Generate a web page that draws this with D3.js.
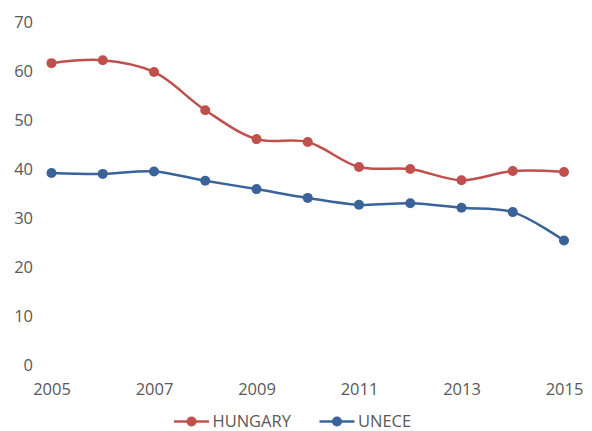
<!DOCTYPE html>
<html><head><meta charset="utf-8">
<script src="https://cdn.jsdelivr.net/npm/d3@7"></script>
<style>body{margin:0;background:#fff}svg{display:block}text{font-family:"Open Sans",sans-serif;fill:#595959}</style>
</head><body><svg id="c" width="592" height="431"></svg>
<script>
const years = [2005,2006,2007,2008,2009,2010,2011,2012,2013,2014,2015];
const hungary = [61.6,62.2,59.8,52.0,46.1,45.5,40.4,40.0,37.7,39.6,39.4];
const unece = [39.2,39.0,39.5,37.6,35.9,34.1,32.7,33.0,32.1,31.2,25.4];
const yTicks = [0,10,20,30,40,50,60,70];
const xTicks = [2005,2007,2009,2011,2013,2015];
const seriesNames = ["HUNGARY","UNECE"];
const colors = ["#C0504D","#3A6399"];

const svg = d3.select("#c");
const x = d3.scaleLinear().domain([2005,2015]).range([51.5,564]);
const y = d3.scaleLinear().domain([0,70]).range([365,22]);

const yAxis = svg.append("g").attr("transform","translate(40,0)")
  .call(d3.axisLeft(y).tickValues(yTicks).tickSize(0).tickPadding(7).tickFormat(d3.format("d")));
yAxis.select(".domain").remove();
yAxis.selectAll("text").style("font-size","16.5px").style("fill","#595959").style("font-family","'Open Sans',sans-serif");

const xAxis = svg.append("g").attr("transform","translate(0,380)")
  .call(d3.axisBottom(x).tickValues(xTicks).tickSize(0).tickPadding(3).tickFormat(d3.format("d")));
xAxis.select(".domain").remove();
xAxis.selectAll("text").style("font-size","16.5px").style("fill","#595959").style("font-family","'Open Sans',sans-serif");

const line = d3.line().x((d,i)=>x(years[i])).y(d=>y(d)).curve(d3.curveCatmullRom.alpha(0.5));
[hungary,unece].forEach((s,k)=>{
  svg.append("path").attr("d",line(s)).attr("fill","none").attr("stroke",colors[k]).attr("stroke-width",2.5);
  svg.selectAll(null).data(s).enter().append("circle")
    .attr("cx",(d,i)=>x(years[i])).attr("cy",d=>y(d)).attr("r",5).attr("fill",colors[k]);
});

const legX = [174,319.5];
seriesNames.forEach((n,k)=>{
  const g = svg.append("g").attr("transform",`translate(${legX[k]},421.5)`);
  g.append("line").attr("x1",0).attr("x2",35).attr("stroke",colors[k]).attr("stroke-width",2.5);
  g.append("circle").attr("cx",17.5).attr("r",5).attr("fill",colors[k]);
  g.append("text").attr("x",38.5).attr("dy","0.35em").style("font-size","16.5px").text(n);
});
</script></body></html>
